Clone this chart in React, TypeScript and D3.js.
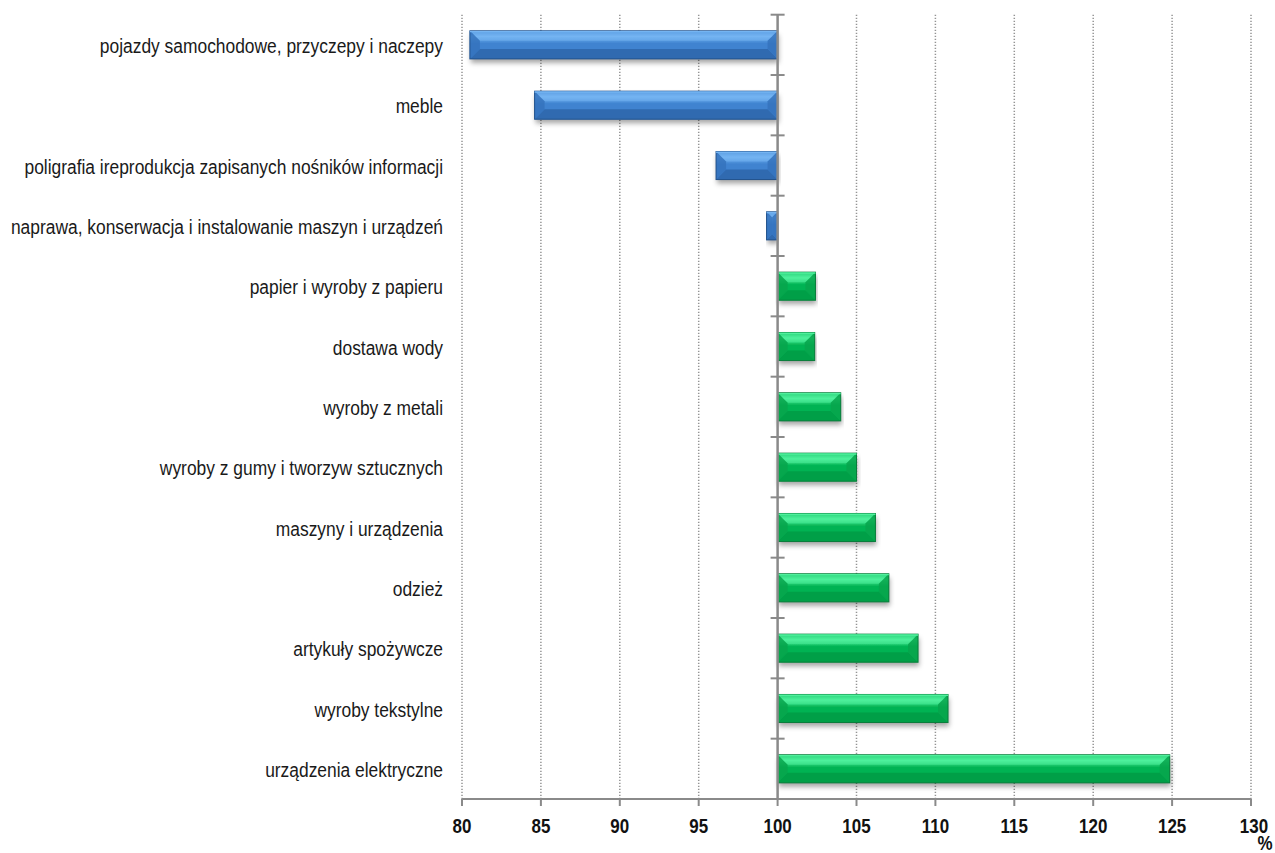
import React from 'react';
import * as d3 from 'd3';

const categories = [
  'pojazdy samochodowe, przyczepy i naczepy',
  'meble',
  'poligrafia ireprodukcja zapisanych nośników informacji',
  'naprawa, konserwacja i instalowanie maszyn i urządzeń',
  'papier i wyroby z papieru',
  'dostawa wody',
  'wyroby z metali',
  'wyroby z gumy i tworzyw sztucznych',
  'maszyny i urządzenia',
  'odzież',
  'artykuły spożywcze',
  'wyroby tekstylne',
  'urządzenia elektryczne',
];

const values = [80.5, 84.6, 96.1, 99.3, 102.4, 102.35, 104.0, 105.0, 106.2, 107.05, 108.9, 110.8, 124.85];

const xTicks = [80, 85, 90, 95, 100, 105, 110, 115, 120, 125, 130];
const baseline = 100;
const unitLabel = '%';

const W = 1275;
const H = 853;
// the source font is a narrow sans; squeeze Liberation Sans to match
const SQUEEZE = 0.87;

const App: React.FC = () => {
  const x = d3.scaleLinear().domain([80, 130]).range([462, 1251]);
  const y = d3.scaleBand<string>()
    .domain(categories)
    .range([14.7, 799])
    .paddingInner(0.535)
    .paddingOuter(0.2675);

  const step = y.step();
  const top = 14.7;
  const bottom = 799;
  const x0 = x(baseline);
  const bw = y.bandwidth();

  const palettes = {
    blue: { light: '#74b4f2', main: '#3f83d0', dark: '#2c64a8', edge: '#22528c', side: '#3573bd' },
    green: { light: '#4ff09c', main: '#00b352', dark: '#009a45', edge: '#0a7c3b', side: '#07a44c' },
  };

  return (
    <svg width={W} height={H} style={{ position: 'absolute', left: 0, top: 0 }}
      fontFamily="'Liberation Sans', Arial, sans-serif">
      <defs>
        {(['blue', 'green'] as const).map(k => (
          <linearGradient key={k} id={`g-${k}`} x1="0" y1="0" x2="0" y2="1">
            <stop offset="0" stopColor={palettes[k].main} />
            <stop offset="0.2" stopColor={palettes[k].light} />
            <stop offset="0.45" stopColor={palettes[k].main} />
            <stop offset="1" stopColor={palettes[k].main} />
          </linearGradient>
        ))}
        <filter id="shadow" x="-5%" y="-30%" width="110%" height="180%">
          <feDropShadow dx="1" dy="4" stdDeviation="2.5" floodColor="#000" floodOpacity="0.35" />
        </filter>
      </defs>

      {/* grid */}
      {xTicks.filter(t => t !== baseline).map(t => (
        <line key={`g${t}`} x1={x(t)} x2={x(t)} y1={top} y2={bottom}
          stroke="#949494" strokeWidth={1.5} strokeDasharray="1.4,1.6" />
      ))}

      {/* bars */}
      {categories.map((c, i) => {
        const v = values[i];
        const k = v < baseline ? 'blue' : 'green';
        const p = palettes[k];
        const bx0 = Math.min(x(v), x0);
        const bx1 = Math.max(x(v), x0);
        const by0 = y(c) as number;
        const by1 = by0 + bw;
        const w = bx1 - bx0;
        const b = Math.min(10, w / 2, bw / 2);
        const pts = (a: number[][]) => a.map(q => q.join(',')).join(' ');
        return (
          <g key={c}>
            <rect x={bx0} y={by0} width={w} height={bw} fill={`url(#g-${k})`} filter="url(#shadow)" />
            <polygon points={pts([[bx0, by0], [bx1, by0], [bx1 - b, by0 + b], [bx0 + b, by0 + b]])}
              fill={p.light} opacity={0.55} />
            <polygon points={pts([[bx0, by1], [bx1, by1], [bx1 - b, by1 - b], [bx0 + b, by1 - b]])}
              fill={p.dark} opacity={0.8} />
            <polygon points={pts([[bx0, by0], [bx0 + b, by0 + b], [bx0 + b, by1 - b], [bx0, by1]])}
              fill={p.side} opacity={0.85} />
            <polygon points={pts([[bx1, by0], [bx1 - b, by0 + b], [bx1 - b, by1 - b], [bx1, by1]])}
              fill={p.side} opacity={0.85} />
            <rect x={bx0} y={by0} width={w} height={bw} fill="none" stroke={p.edge} strokeWidth={1} />
            <line x1={bx0} x2={bx1} y1={by0 + 0.8} y2={by0 + 0.8} stroke={p.light} strokeWidth={1.4} />
          </g>
        );
      })}

      {/* category axis at baseline */}
      <line x1={x0} x2={x0} y1={top} y2={bottom} stroke="#8a8a8a" strokeWidth={2.5} />
      {d3.range(categories.length + 1).map(i => (
        <line key={`ct${i}`} x1={x0 - 7} x2={x0 + 7} y1={top + i * step} y2={top + i * step}
          stroke="#8a8a8a" strokeWidth={2} />
      ))}

      {/* value axis */}
      <line x1={x(80)} x2={x(130)} y1={bottom} y2={bottom} stroke="#8a8a8a" strokeWidth={2} />
      {xTicks.map(t => (
        <g key={`xt${t}`}>
          <line x1={x(t)} x2={x(t)} y1={bottom} y2={bottom + 7} stroke="#8a8a8a" strokeWidth={2} />
          <text transform={`translate(${x(t) + (t === 130 ? 3 : 0)},833) scale(${SQUEEZE},1)`}
            textAnchor="middle" fontSize={19.5} fontWeight="bold" fill="#111">{t}</text>
        </g>
      ))}
      <text transform={`translate(${x(130) + 14},850) scale(${SQUEEZE},1)`} textAnchor="middle"
        fontSize={19.5} fontWeight="bold" fill="#111">{unitLabel}</text>

      {/* category labels */}
      {categories.map(c => (
        <text key={`l${c}`} transform={`translate(443,${(y(c) as number) + bw / 2}) scale(${SQUEEZE},1)`}
          dy="0.4em" textAnchor="end" fontSize={20} fill="#1a1a1a">{c}</text>
      ))}
    </svg>
  );
};

export default App;
